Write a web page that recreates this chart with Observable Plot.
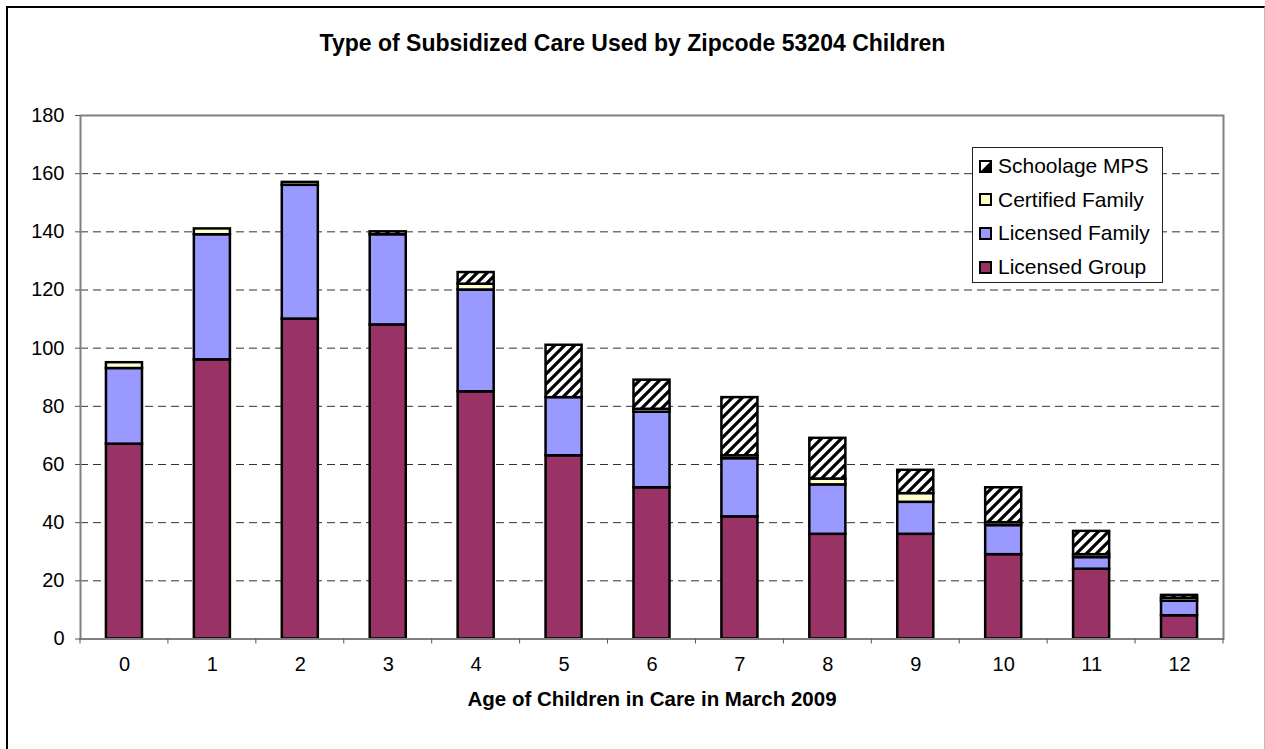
<!DOCTYPE html>
<html><head><meta charset="utf-8">
<script src="https://cdn.jsdelivr.net/npm/d3@7"></script>
<script src="https://cdn.jsdelivr.net/npm/@observablehq/plot@0.6"></script>
<style>
body{margin:0;background:#fff;font-family:"Liberation Sans",Arial,sans-serif;}
#wrap{position:relative;width:1265px;height:749px;overflow:hidden;background:#fff;}
#border{position:absolute;left:6px;top:6px;width:1256px;height:780px;border-left:2px solid #000;border-top:2px solid #000;border-right:1px solid #bbb;z-index:5;pointer-events:none;}
#title{position:absolute;left:0;top:30px;width:1265px;text-align:center;font-weight:bold;font-size:23px;line-height:26px;color:#000;}
#chart{position:absolute;left:0;top:90px;}
#legend{position:absolute;left:972px;top:147px;width:189px;height:134px;border:1px solid #222;background:#fff;}
.item{position:absolute;left:6px;height:26px;font-size:21px;line-height:26px;display:flex;align-items:center;color:#000;white-space:nowrap;}
.item svg{margin-right:6px;}
</style>
</head>
<body>
<div id="wrap">
  <div id="border"></div>
  <div id="title"></div>
  <div id="chart"></div>
  <div id="legend"></div>
</div>
<script>
const titleText = "Type of Subsidized Care Used by Zipcode 53204 Children";
const xLabel = "Age of Children in Care in March 2009";
const ages = [0,1,2,3,4,5,6,7,8,9,10,11,12];
const seriesNames = ["Licensed Group","Licensed Family","Certified Family","Schoolage MPS"];
const licensedGroup   = [67,96,110,108,85,63,52,42,36,36,29,24,8];
const licensedFamily  = [26,43,46,31,35,20,26,20,17,11,10,4,5];
const certifiedFamily = [2,2,1,0,2,0,1,1,2,3,1,1,1];
const schoolageMPS    = [0,0,0,1,4,18,10,20,14,8,12,8,1];
const yTicks = [0,20,40,60,80,100,120,140,160,180];
const gridTicks = [20,40,60,80,100,120,140,160];
const seriesColors = ["#993366","#9999FF","#FFFFCC","url(#hatch)"];

const seriesValues = [licensedGroup, licensedFamily, certifiedFamily, schoolageMPS];
const rows = [];
ages.forEach((a, i) => {
  seriesNames.forEach((s, j) => {
    const v = seriesValues[j][i];
    if (v > 0) rows.push({age: a, series: s, value: v});
  });
});

document.getElementById("title").textContent = titleText;

const chart = Plot.plot({
  width: 1265,
  height: 659,
  marginTop: 25,
  marginBottom: 110.5,
  marginLeft: 80,
  marginRight: 42,
  style: {fontFamily: "'Liberation Sans', Arial, sans-serif", background: "none", color: "#000"},
  x: {type: "band", domain: ages, paddingInner: 0.59, paddingOuter: 0.295, round: false},
  y: {domain: [0, 180]},
  color: {domain: seriesNames, range: seriesColors},
  marks: [
    Plot.gridY(gridTicks, {stroke: "#333", strokeOpacity: 1, strokeWidth: 1, strokeDasharray: "8,5"}),
    Plot.barY(rows, {x: "age", y: "value", fill: "series", stroke: "#000", strokeWidth: 2.5}),
    Plot.frame({stroke: "#808080", strokeWidth: 2}),
    Plot.axisY(yTicks, {tickSize: 5, tickPadding: 11, fontSize: 20, label: null, stroke: "#555"}),
    Plot.axisX({tickSize: 0, tickPadding: 18, fontSize: 20, label: null}),
    Plot.text([xLabel], {frameAnchor: "bottom", dy: 60, fontSize: 20.5, fontWeight: "bold", lineAnchor: "middle", fill: "#000"})
  ]
});

const svg = d3.select(chart);
const defs = svg.insert("defs", ":first-child");
const pat = defs.append("pattern").attr("id", "hatch").attr("patternUnits", "userSpaceOnUse")
  .attr("width", 10).attr("height", 10);
pat.append("rect").attr("width", 10).attr("height", 10).attr("fill", "#fff");
pat.append("path").attr("d", "M-2,2 L2,-2 M0,10 L10,0 M8,12 L12,8")
  .attr("stroke", "#000").attr("stroke-width", 3.2);

// category boundary tick marks on the x axis
const xs = chart.scale("x");
const ys = chart.scale("y");
const [r0, r1] = xs.range;
const stepPx = (r1 - r0) / ages.length;
const y0 = ys.apply(0);
const tg = svg.append("g").attr("stroke", "#555").attr("stroke-width", 1);
d3.range(ages.length + 1).forEach(i => {
  const x = r0 + i * stepPx;
  tg.append("line").attr("x1", x).attr("x2", x).attr("y1", y0).attr("y2", y0 + 5);
});

document.getElementById("chart").appendChild(chart);

// legend (top series first)
const legend = document.getElementById("legend");
const legendOrder = ["Schoolage MPS","Certified Family","Licensed Family","Licensed Group"];
legendOrder.forEach((name, k) => {
  const idx = seriesNames.indexOf(name);
  const item = document.createElement("div");
  item.className = "item";
  item.style.top = (5 + k * 33.7) + "px";
  let sw;
  if (name === "Schoolage MPS") {
    sw = '<svg width="13" height="13"><rect x="1" y="1" width="11" height="11" fill="#fff" stroke="#000" stroke-width="2"/><polygon points="1,12 12,1 12,12" fill="#000"/></svg>';
  } else {
    sw = '<svg width="13" height="13"><rect x="1" y="1" width="11" height="11" fill="' + seriesColors[idx] + '" stroke="#000" stroke-width="2"/></svg>';
  }
  item.innerHTML = sw + '<span>' + name + '</span>';
  legend.appendChild(item);
});
</script>
</body></html>
